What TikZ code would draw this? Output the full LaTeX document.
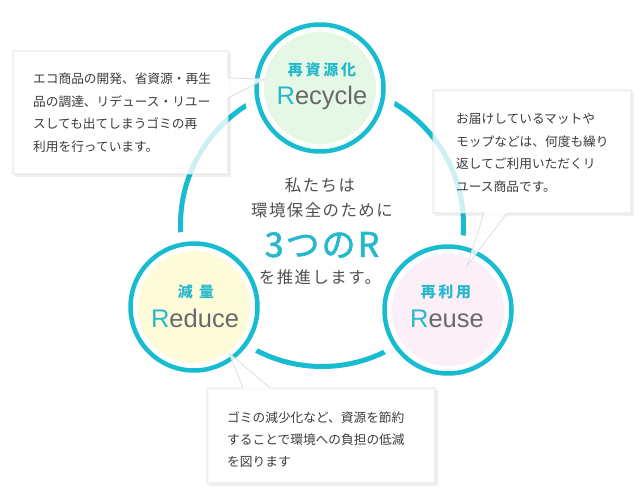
\documentclass[tikz,border=0pt]{standalone}
\usepackage{fontspec}
\setmainfont{Noto Sans CJK JP}
\newfontfamily\jp{Noto Sans CJK JP}
\newfontfamily\jpsp[LetterSpace=9]{Noto Sans CJK JP}
\newfontfamily\jpti[LetterSpace=18]{Noto Sans CJK JP}
\newfontfamily\jpbig[LetterSpace=6,FakeBold=1.6]{Noto Sans CJK JP}
\newfontfamily\en{Liberation Sans}
\definecolor{ringc}{RGB}{24,188,208}
\definecolor{tcyan}{RGB}{38,184,204}
\definecolor{engray}{RGB}{105,105,105}
\definecolor{midc}{RGB}{80,80,80}
\definecolor{bodyc}{RGB}{60,60,60}
\definecolor{boxc}{RGB}{222,222,222}
\definecolor{fgreen}{RGB}{229,248,229}
\definecolor{fyellow}{RGB}{254,252,216}
\definecolor{fpink}{RGB}{252,239,248}
\begin{document}
\begin{tikzpicture}[x=1pt,y=-1pt,
  halo/.style={circle,fill=white,minimum size=152,inner sep=0},
  sring/.style={circle,draw=ringc,line width=4.5,minimum size=127,inner sep=0},
  sfill/.style={circle,minimum size=112,inner sep=0},
  ttl/.style={font=\jpti\bfseries\fontsize{15}{18}\selectfont,text=tcyan,inner sep=0},
  eng/.style={font=\en\fontsize{25.5}{28}\selectfont,text=engray,inner sep=0,anchor=base},
  body/.style={font=\jp\fontsize{12.7}{22.4}\selectfont,text=bodyc,inner sep=0,anchor=base west,text width=230,align=left},
  mid/.style={font=\jpsp\fontsize{16.4}{20}\selectfont,text=midc,inner sep=0},
  callout/.style={fill=white,fill opacity=0.78,draw=boxc,line width=0.8,line join=miter},
  shade/.style={fill=black,fill opacity=0.06,even odd rule}]
\useasboundingbox (0,0) rectangle (640,500);
\fill[white] (0,0) rectangle (640,500);
% big ring
\node[circle,draw=ringc,line width=5,minimum size=283,inner sep=0] (bigring) at (322,225) {};
% circles
\node[halo] (rcH) at (320,88) {};
\node[sring] (rcR) at (320,88) {};
\node[sfill,fill=fgreen] (rc) at (320,88) {};
\node[halo] (rdH) at (194,307) {};
\node[sring] (rdR) at (194,307) {};
\node[sfill,fill=fyellow] (rd) at (194,307) {};
\node[halo] (ruH) at (448,310) {};
\node[sring] (ruR) at (448,310) {};
\node[sfill,fill=fpink] (ru) at (448,310) {};
% titles
\node[ttl] (rcT) at (322,70) {再資源化};
\node[eng] (rcE) at (322,105) {{\color{tcyan}R}ecycle};
\node[ttl] (rdT) at (196,292) {減 量};
\node[eng] (rdE) at (195,327) {{\color{tcyan}R}educe};
\node[ttl] (ruT) at (446,292) {再利用};
\node[eng] (ruE) at (447,327) {{\color{tcyan}R}euse};
% centre text
\node[mid] (m1) at (320,185) {私たちは};
\node[mid] (m2) at (322,210) {環境保全のために};
\node[font=\jpbig\fontsize{34}{36}\selectfont,text=tcyan,inner sep=0] (m3) at (322,245) {3つのR};
\node[mid] (m4) at (320,277) {を推進します。};
% callout shadows (outside the boxes only)
\fill[shade] (15,53) rectangle (231,177) (13,51) rectangle (228,174);
\fill[shade] (435,92) rectangle (634,216) (433,90) rectangle (631,213);
\fill[shade] (209,390) rectangle (438,486) (207,388) rectangle (435,483);
% callouts
\path[callout] (13,51) -- (228,51) -- (228,78) -- (265,79) -- (228,98) -- (228,174) -- (13,174) -- cycle;
\path[callout] (433,90) -- (631,90) -- (631,213) -- (507,213) -- (467,266) -- (484,213) -- (433,213) -- cycle;
\path[callout] (207,388) -- (243,388) -- (229,353) -- (270,388) -- (435,388) -- (435,483) -- (207,483) -- cycle;
% callout texts
\node[body] (t1) at (33,84) {エコ商品の開発、省資源・再生\\品の調達、リデュース・リユー\\スしても出てしまうゴミの再\\利用を行っています。};
\node[body] (t2) at (456,124) {お届けしているマットや\\モップなどは、何度も繰り\\返してご利用いただくリ\\ユース商品です。};
\node[body] (t3) at (227,422) {ゴミの減少化など、資源を節約\\することで環境への負担の低減\\を図ります};
\end{tikzpicture}
\end{document}
